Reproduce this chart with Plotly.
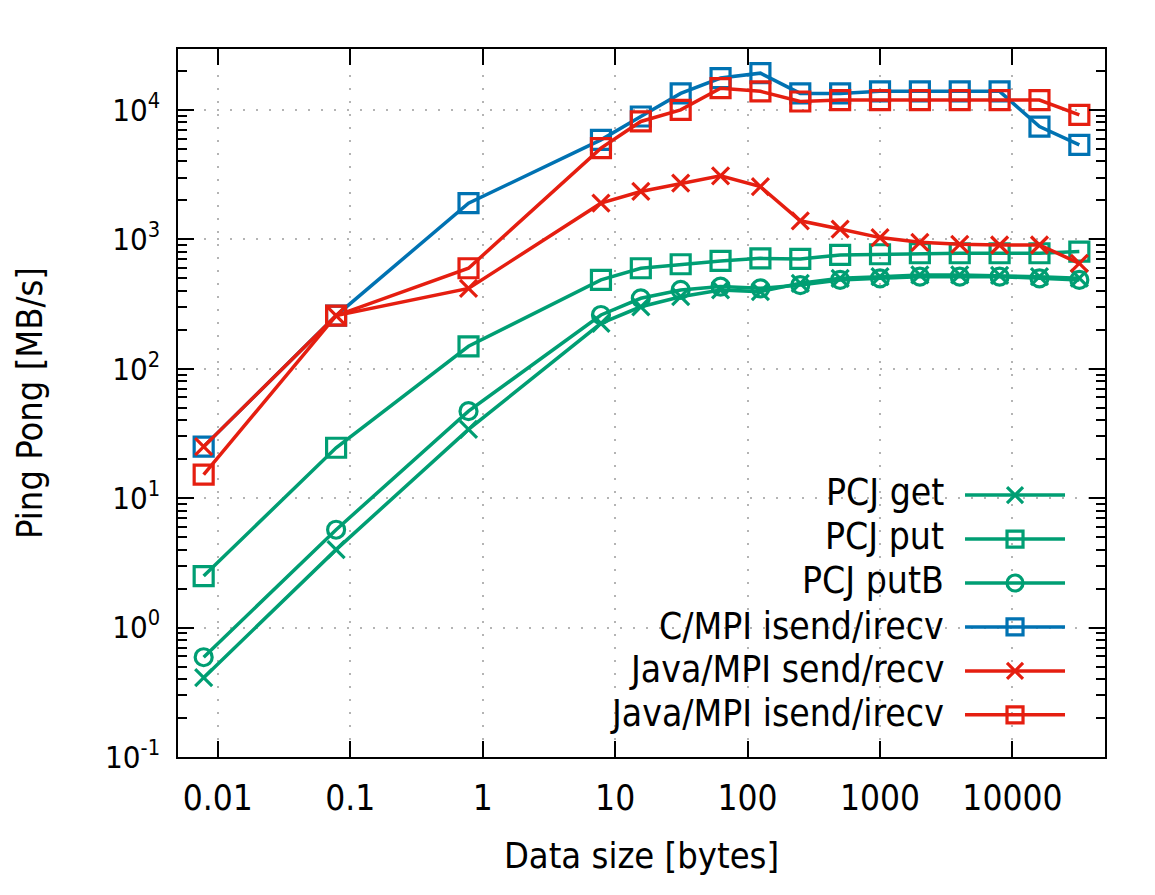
import plotly.graph_objects as go

# Data (x in the units shown on the axis)
x_size = [0.0078125, 0.078125, 0.78125, 7.8125, 15.625, 31.25, 62.5, 125,
          250, 500, 1000, 2000, 4000, 8000, 16000, 32000]

pcj_get = [0.41, 4.0, 34, 224, 301, 360, 406, 394, 457, 499, 514, 530, 530, 525, 514, 500]
pcj_put = [2.5, 24.5, 149, 486, 597, 641, 680, 712, 705, 757, 766, 780, 780, 780, 780, 803]
pcj_putB = [0.59, 5.7, 47, 260, 350, 406, 431, 418, 443, 485, 499, 514, 514, 514, 499, 485]
c_mpi_isend = [25, 257, 1900, 5860, 8880, 13400, 17600, 19200, 13400, 13400, 13900,
               13900, 13900, 13900, 7430, 5360]
java_send = [25, 257, 417, 1900, 2340, 2710, 3090, 2550, 1390, 1200, 1030, 948,
             915, 903, 903, 652]
java_isend = [15.2, 257, 597, 5060, 8130, 10000, 14700, 13900, 11600, 11900, 11900,
              11900, 11900, 11900, 11900, 9150]

series_names = ["PCJ get", "PCJ put", "PCJ putB", "C/MPI isend/irecv",
                "Java/MPI send/recv", "Java/MPI isend/irecv"]
series_values = [pcj_get, pcj_put, pcj_putB, c_mpi_isend, java_send, java_isend]
series_colors = ["#009e73", "#009e73", "#009e73", "#0072b2", "#e51e10", "#e51e10"]
series_symbols = ["x-thin-open", "square-open", "circle-open", "square-open",
                  "x-thin-open", "square-open"]
series_sizes = [17, 19, 17, 19, 17, 19]

x_tick_vals = [0.01, 0.1, 1, 10, 100, 1000, 10000]
x_tick_text = ["0.01", "0.1", "1", "10", "100", "1000", "10000"]
y_tick_vals = [0.1, 1, 10, 100, 1000, 10000]
y_tick_text = ["10<sup>-1</sup>", "10<sup>0</sup>", "10<sup>1</sup>",
               "10<sup>2</sup>", "10<sup>3</sup>", "10<sup>4</sup>"]

FONT = "DejaVu Sans Condensed, DejaVu Sans, sans-serif"

fig = go.Figure()
for name, vals, col, sym, sz in zip(series_names, series_values, series_colors,
                                    series_symbols, series_sizes):
    fig.add_trace(go.Scatter(
        x=x_size, y=vals, mode="lines+markers", name=" ",
        line=dict(color=col, width=3.5),
        marker=dict(symbol=sym, size=sz, color=col,
                    line=dict(color=col, width=3.2)),
    ))

# legend text as annotations (gnuplot places text left of the sample)
leg_text_y = [0.373, 0.311, 0.249, 0.185, 0.123, 0.061]
for name, yy in zip(series_names, leg_text_y):
    fig.add_annotation(x=0.8285, y=yy, xref="paper", yref="paper",
                       text=name, showarrow=False, xanchor="right",
                       yanchor="middle", font=dict(family=FONT, size=37, color="black"))

axis_common = dict(
    showline=True, linecolor="black", linewidth=1.5, mirror="allticks",
    ticks="inside", ticklen=16, tickwidth=1.5, tickcolor="black",
    showgrid=True, gridcolor="#b4b4b4", griddash="2px,11px", gridwidth=1.5,
    zeroline=False,
)

fig.update_xaxes(
    type="log", range=[-2.30103, 4.69897],
    tickmode="array", tickvals=x_tick_vals, ticktext=x_tick_text,
    tickfont=dict(family=FONT, size=35, color="black"),
    ticklabelstandoff=9,
    title=dict(text="Data size [bytes]", font=dict(family=FONT, size=36, color="black"),
               standoff=26),
    **axis_common,
)
fig.update_yaxes(
    type="log", range=[-1, 4.47],
    tickmode="array", tickvals=y_tick_vals, ticktext=y_tick_text,
    tickfont=dict(family=FONT, size=31, color="black"),
    ticklabelstandoff=10,
    minor=dict(tickmode="linear", dtick="D1", ticks="inside", ticklen=9,
               tickwidth=1.5, tickcolor="black", showgrid=False),
    title=dict(text="Ping Pong [MB/s]", font=dict(family=FONT, size=36, color="black"),
               standoff=52),
    **axis_common,
)

fig.update_layout(
    width=1155, height=895,
    margin=dict(l=170, r=58, t=41, b=146),
    paper_bgcolor="white", plot_bgcolor="white",
    font=dict(family=FONT, size=24, color="black"),
    showlegend=True,
    legend=dict(x=0.8436, y=0.408, xanchor="left", yanchor="top",
                bgcolor="rgba(0,0,0,0)", borderwidth=0,
                font=dict(family=FONT, size=31.5),
                itemwidth=100, tracegroupgap=0),
)

fig.write_html("out.html")
